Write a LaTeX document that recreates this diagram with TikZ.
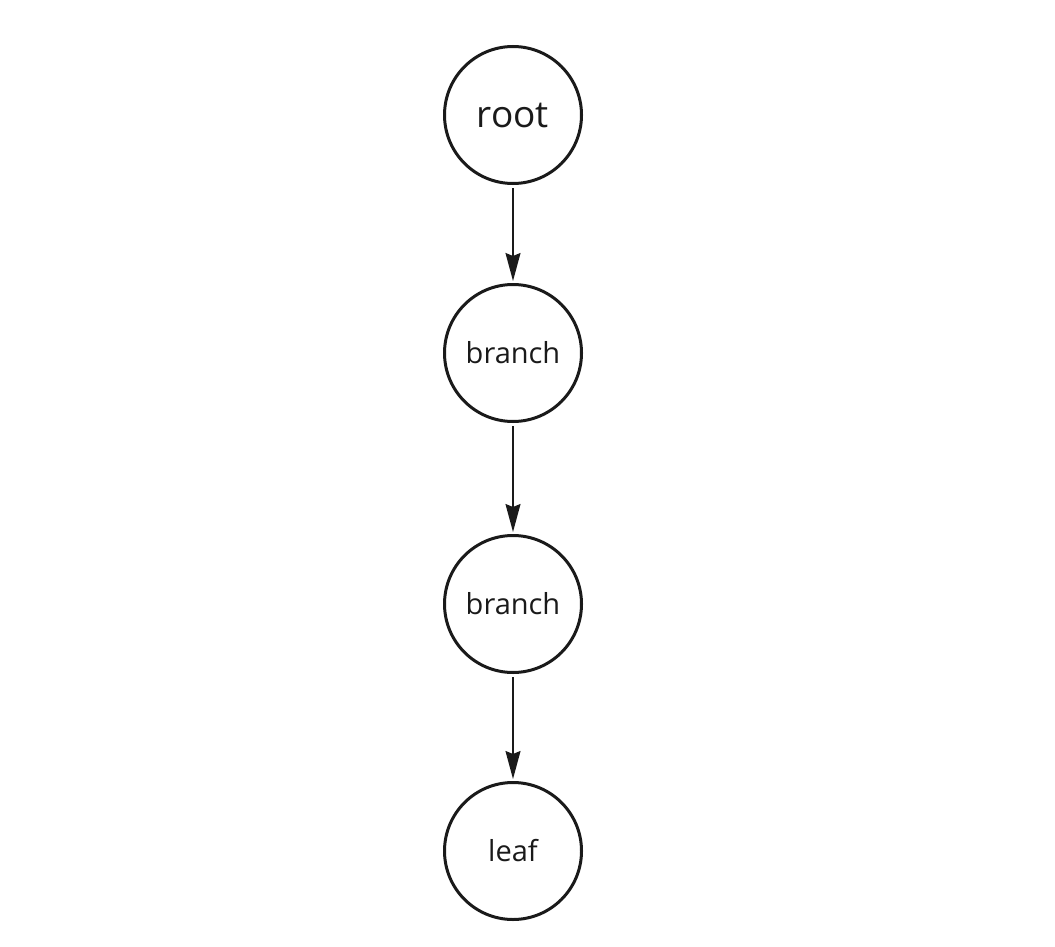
\documentclass[tikz,border=0pt]{standalone}
\usepackage{fontspec}
\setmainfont{Open Sans}
\usetikzlibrary{arrows.meta}
\definecolor{ink}{HTML}{1A1A1A}
\tikzset{
  vtx/.style={circle, draw=ink, line width=3pt, minimum size=137pt, inner sep=0pt, text=ink, font=\fontsize{29}{34}\selectfont},
  conn/.style={draw=ink, line width=1.5pt, -{Stealth[length=28pt,width=15pt,inset=3pt]}, shorten <=3pt, shorten >=2pt}
}
\begin{document}
\begin{tikzpicture}[x=1pt,y=-1pt]
\useasboundingbox (0,0) rectangle (1055,947);
\node[vtx, font=\fontsize{37}{42}\selectfont] (root) at (513,115) {root};
\node[vtx] (b1) at (513,353) {branch};
\node[vtx] (b2) at (513,604) {branch};
\node[vtx] (leaf) at (513,851) {leaf};
\draw[conn] (root) -- (b1);
\draw[conn] (b1) -- (b2);
\draw[conn] (b2) -- (leaf);
\end{tikzpicture}
\end{document}
